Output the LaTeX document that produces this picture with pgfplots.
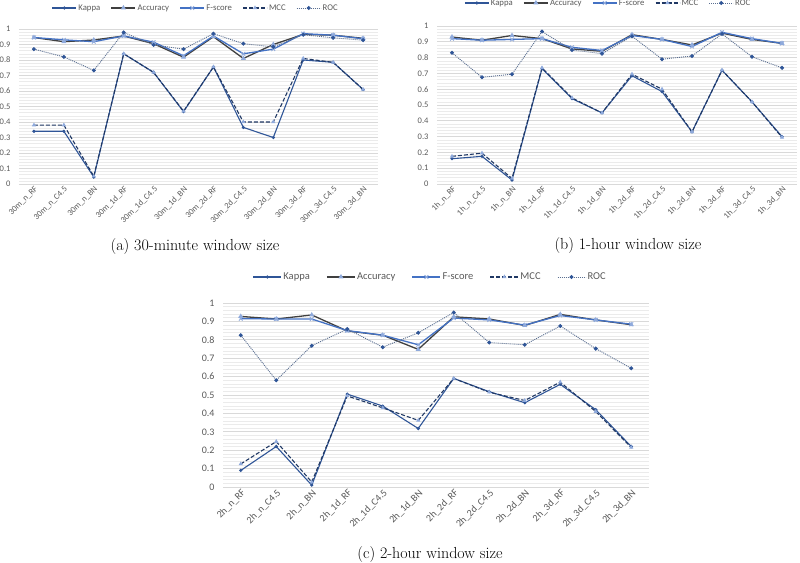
\documentclass[border=0pt]{standalone}
\usepackage{fontspec}
\usepackage{pgfplots}
\usepackage{pgfplotstable}
\pgfplotsset{compat=1.18}
\newfontfamily\chartfont{Carlito}

\definecolor{kappa}{HTML}{2F5597}
\definecolor{acc}{HTML}{404040}
\definecolor{lightm}{HTML}{8FAADC}
\definecolor{fs}{HTML}{4472C4}
\definecolor{mcc}{HTML}{203864}
\definecolor{roc}{HTML}{5B6F91}
\definecolor{rocm}{HTML}{2F5597}
\definecolor{txt}{HTML}{595959}
\definecolor{gridmaj}{HTML}{D9D9D9}
\definecolor{gridmin}{HTML}{EBEBEB}

% 30-minute window
\pgfplotstableread{
x Kappa Accuracy Fscore MCC ROC
0  0.34  0.945 0.945 0.38  0.87
1  0.34  0.918 0.93  0.38  0.82
2  0.045 0.929 0.918 0.05  0.733
3  0.84  0.955 0.955 0.84  0.978
4  0.72  0.905 0.915 0.72  0.897
5  0.467 0.818 0.827 0.47  0.87
6  0.755 0.95  0.955 0.755 0.97
7  0.365 0.81  0.84  0.40  0.905
8  0.30  0.90  0.87  0.40  0.885
9  0.80  0.965 0.97  0.81  0.963
10 0.785 0.96  0.96  0.785 0.943
11 0.61  0.94  0.937 0.61  0.928
}\tabA

% 1-hour window
\pgfplotstableread{
x Kappa Accuracy Fscore MCC ROC
0  0.16  0.93  0.92  0.175 0.83
1  0.175 0.91  0.91  0.195 0.675
2  0.025 0.94  0.915 0.035 0.695
3  0.73  0.92  0.92  0.735 0.965
4  0.54  0.855 0.865 0.545 0.848
5  0.45  0.84  0.845 0.45  0.825
6  0.685 0.945 0.94  0.695 0.935
7  0.585 0.915 0.915 0.60  0.79
8  0.33  0.88  0.87  0.33  0.81
9  0.72  0.955 0.96  0.72  0.95
10 0.52  0.915 0.92  0.52  0.805
11 0.30  0.89  0.89  0.295 0.735
}\tabB

% 2-hour window
\pgfplotstableread{
x Kappa Accuracy Fscore MCC ROC
0  0.09  0.927 0.915 0.125 0.825
1  0.22  0.913 0.913 0.247 0.58
2  0.01  0.935 0.913 0.027 0.768
3  0.505 0.848 0.85  0.495 0.858
4  0.44  0.825 0.825 0.43  0.76
5  0.318 0.748 0.773 0.362 0.838
6  0.59  0.925 0.918 0.59  0.948
7  0.518 0.913 0.908 0.515 0.785
8  0.458 0.878 0.88  0.47  0.773
9  0.558 0.938 0.932 0.57  0.875
10 0.42  0.908 0.908 0.41  0.752
11 0.22  0.882 0.885 0.215 0.645
}\tabC

\pgfplotsset{
  panel/.style={
    scale only axis,
    xmin=-0.5, xmax=11.5, ymin=0, ymax=1,
    xtick={0,...,11},
    ytick={0,0.1,0.2,0.3,0.4,0.5,0.6,0.7,0.8,0.9,1},
    yticklabels={0,0.1,0.2,0.3,0.4,0.5,0.6,0.7,0.8,0.9,1},
    minor y tick num=4,
    ymajorgrids, yminorgrids,
    major grid style={draw=gridmaj, line width=0.75bp},
    minor grid style={draw=gridmin, line width=0.5bp},
    axis line style={draw=none},
    major tick length=0pt, minor tick length=0pt,
    tick label style={text=txt},
    xticklabel style={rotate=45, anchor=north east, inner sep=1bp},
    yticklabel style={xshift=-5bp},
    legend columns=-1,
    legend style={draw=none, fill=none, text=txt, inner sep=0pt,
      nodes={inner sep=1.5bp},
      /tikz/every even column/.append style={column sep=9bp}},
    legend image code/.code={\draw[mark repeat=2,mark phase=2]
      plot coordinates {(0bp,0bp)(12bp,0bp)(24bp,0bp)};},
  },
  smallfont/.style={
    tick label style={font=\chartfont\fontsize{8.5bp}{10bp}\selectfont},
    legend style={font=\chartfont\fontsize{8.7bp}{10bp}\selectfont}},
  bigfont/.style={
    tick label style={font=\chartfont\fontsize{10bp}{12bp}\selectfont},
    legend style={font=\chartfont\fontsize{10.5bp}{12bp}\selectfont,
      /tikz/every even column/.append style={column sep=15bp}},
    legend image code/.code={\draw[mark repeat=2,mark phase=2]
      plot coordinates {(0bp,0bp)(14bp,0bp)(28bp,0bp)};}},
  skappa/.style={color=kappa, line width=1.1bp, mark=*, mark size=1bp},
  sacc/.style={color=acc, line width=1.3bp, mark=triangle*, mark size=1.7bp,
    mark options={draw=lightm, fill=lightm}},
  sfs/.style={color=fs, line width=1.3bp, mark=x, mark size=2.6bp,
    mark options={draw=lightm, line width=0.9bp}},
  smcc/.style={color=mcc, line width=1.1bp, dash pattern=on 4bp off 2bp,
    mark=triangle*, mark size=1.4bp, mark options={solid, draw=lightm, fill=lightm}},
  sroc/.style={color=roc, line width=0.9bp, dash pattern=on 1bp off 1bp,
    mark=*, mark size=1.5bp, mark options={solid, draw=rocm, fill=rocm}},
}

\begin{document}
\begin{tikzpicture}
\useasboundingbox (0,0) rectangle (800bp,563bp);

\begin{axis}[panel, smallfont, at={(19bp,379bp)}, anchor=south west,
  width=359bp, height=155bp,
  xticklabels={30m\_n\_RF,30m\_n\_C4.5,30m\_n\_BN,30m\_1d\_RF,30m\_1d\_C4.5,30m\_1d\_BN,30m\_2d\_RF,30m\_2d\_C4.5,30m\_2d\_BN,30m\_3d\_RF,30m\_3d\_C4.5,30m\_3d\_BN},
  legend style={at={(0.5,1)}, anchor=center, xshift=-3bp, yshift=21bp}]
\addplot[skappa] table[x=x,y=Kappa]{\tabA};
\addplot[sacc] table[x=x,y=Accuracy]{\tabA};
\addplot[sfs] table[x=x,y=Fscore]{\tabA};
\addplot[smcc] table[x=x,y=MCC]{\tabA};
\addplot[sroc] table[x=x,y=ROC]{\tabA};
\legend{Kappa,Accuracy,F-score,MCC,ROC}
\end{axis}

\begin{axis}[panel, smallfont, at={(437bp,379bp)}, anchor=south west,
  width=360bp, height=158bp,
  xticklabels={1h\_n\_RF,1h\_n\_C4.5,1h\_n\_BN,1h\_1d\_RF,1h\_1d\_C4.5,1h\_1d\_BN,1h\_2d\_RF,1h\_2d\_C4.5,1h\_2d\_BN,1h\_3d\_RF,1h\_3d\_C4.5,1h\_3d\_BN},
  legend style={at={(0.5,1)}, anchor=center, xshift=-9bp, yshift=23bp}]
\addplot[skappa] table[x=x,y=Kappa]{\tabB};
\addplot[sacc] table[x=x,y=Accuracy]{\tabB};
\addplot[sfs] table[x=x,y=Fscore]{\tabB};
\addplot[smcc] table[x=x,y=MCC]{\tabB};
\addplot[sroc] table[x=x,y=ROC]{\tabB};
\legend{Kappa,Accuracy,F-score,MCC,ROC}
\end{axis}

\begin{axis}[panel, bigfont, at={(223bp,76bp)}, anchor=south west,
  width=426bp, height=184bp,
  xticklabels={2h\_n\_RF,2h\_n\_C4.5,2h\_n\_BN,2h\_1d\_RF,2h\_1d\_C4.5,2h\_1d\_BN,2h\_2d\_RF,2h\_2d\_C4.5,2h\_2d\_BN,2h\_3d\_RF,2h\_3d\_C4.5,2h\_3d\_BN},
  legend style={at={(0.5,1)}, anchor=center, xshift=-6bp, yshift=26bp}]
\addplot[skappa] table[x=x,y=Kappa]{\tabC};
\addplot[sacc] table[x=x,y=Accuracy]{\tabC};
\addplot[sfs] table[x=x,y=Fscore]{\tabC};
\addplot[smcc] table[x=x,y=MCC]{\tabC};
\addplot[sroc] table[x=x,y=ROC]{\tabC};
\legend{Kappa,Accuracy,F-score,MCC,ROC}
\end{axis}

\node[font=\fontsize{16bp}{19bp}\selectfont] at (195bp,316bp) {(a) 30-minute window size};
\node[font=\fontsize{16bp}{19bp}\selectfont] at (628bp,317bp) {(b) 1-hour window size};
\node[font=\fontsize{16bp}{19bp}\selectfont] at (430bp,8bp) {(c) 2-hour window size};
\end{tikzpicture}
\end{document}
